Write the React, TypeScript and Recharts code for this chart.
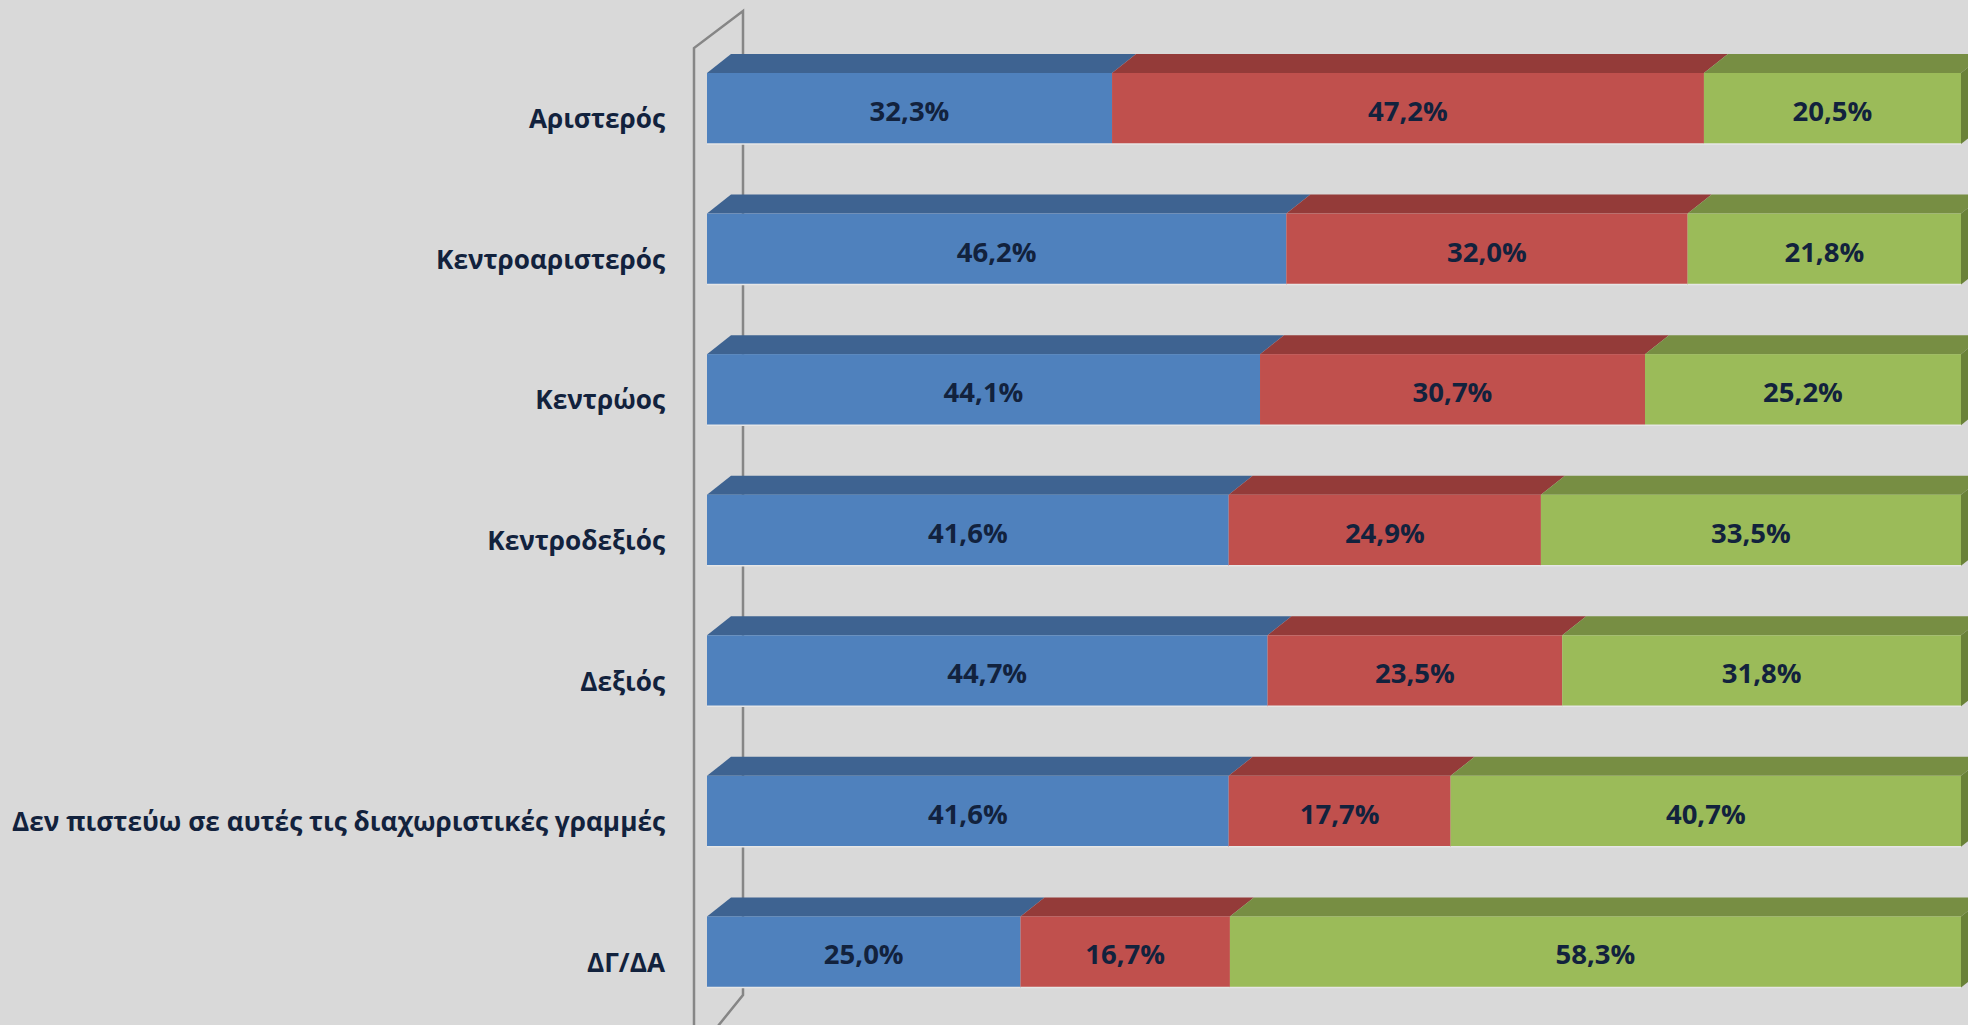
import { BarChart, Bar, XAxis, YAxis, LabelList, Customized } from 'recharts'

const categories = [
  'Αριστερός',
  'Κεντροαριστερός',
  'Κεντρώος',
  'Κεντροδεξιός',
  'Δεξιός',
  'Δεν πιστεύω σε αυτές τις διαχωριστικές γραμμές',
  'ΔΓ/ΔΑ',
]
const firstValues = [32.3, 46.2, 44.1, 41.6, 44.7, 41.6, 25.0]
const secondValues = [47.2, 32.0, 30.7, 24.9, 23.5, 17.7, 16.7]
const thirdValues = [20.5, 21.8, 25.2, 33.5, 31.8, 40.7, 58.3]

const data = categories.map((name, i) => ({
  name,
  first: firstValues[i],
  second: secondValues[i],
  third: thirdValues[i],
}))

const W = 1968
const H = 1025
const PLOT_LEFT = 707
const MARGIN = { top: 38, right: 7, bottom: 3, left: 0 }
const DEPTH_X = 24
const DEPTH_Y = 19
const TEXT = '#12223d'
const FONT = '"Open Sans", "Noto Sans", sans-serif'

const colors = {
  first: { front: '#4f81bd', top: '#3e6391', side: '#35577f' },
  second: { front: '#c0504d', top: '#943b39', side: '#7e3230' },
  third: { front: '#9bbb59', top: '#778e43', side: '#6a8238' },
}

type Shade = { front: string; top: string; side: string }

const make3dBar = (shade: Shade, withSide: boolean) => (props: any) => {
  const { x, y, width, height } = props
  if (!width || width <= 0) return <g />
  return (
    <g>
      <polygon
        points={`${x},${y} ${x + width},${y} ${x + width + DEPTH_X},${y - DEPTH_Y} ${x + DEPTH_X},${y - DEPTH_Y}`}
        fill={shade.top}
      />
      {withSide && (
        <polygon
          points={`${x + width},${y} ${x + width + DEPTH_X},${y - DEPTH_Y} ${x + width + DEPTH_X},${y + height - DEPTH_Y} ${x + width},${y + height}`}
          fill={shade.side}
        />
      )}
      <rect x={x} y={y} width={width} height={height} fill={shade.front} />
      <line x1={x} y1={y + height} x2={x + width} y2={y + height} stroke="#e6e6e6" strokeWidth={1.5} />
    </g>
  )
}

// back wall of the 3D plot area
const Wall = () => {
  const front = PLOT_LEFT - 13
  const back = PLOT_LEFT + 36
  return (
    <g fill="none" stroke="#868686" strokeWidth={2.5}>
      <polyline points={`${front},${H + 10} ${front},48 ${back},11 ${back},995 ${front - 1},${H + 32}`} />
    </g>
  )
}

const CategoryTick = (props: any) => {
  const { y, payload } = props
  return (
    <text
      x={665}
      y={y + 10}
      textAnchor="end"
      dominantBaseline="central"
      fill={TEXT}
      fontFamily={FONT}
      fontWeight={700}
      fontSize={26.2}
    >
      {payload.value}
    </text>
  )
}

const ValueLabel = (props: any) => {
  const { x, y, width, height, value } = props
  return (
    <text
      x={x + width / 2}
      y={y + height / 2 + 2}
      textAnchor="middle"
      dominantBaseline="central"
      fill={TEXT}
      fontFamily={FONT}
      fontWeight={700}
      fontSize={27.5}
    >
      {`${Number(value).toFixed(1).replace('.', ',')}%`}
    </text>
  )
}

export default function App() {
  return (
    <div style={{ position: 'absolute', left: 0, top: 0, width: W, height: H, background: '#d9d9d9', overflow: 'hidden' }}>
      <BarChart width={W} height={H} data={data} layout="vertical" margin={MARGIN} barSize={71}>
        <Customized component={Wall} />
        <XAxis type="number" domain={[0, 100]} hide />
        <YAxis
          type="category"
          dataKey="name"
          width={PLOT_LEFT}
          axisLine={false}
          tickLine={false}
          tick={<CategoryTick />}
          interval={0}
        />
        <Bar dataKey="first" stackId="s" isAnimationActive={false} shape={make3dBar(colors.first, false)}>
          <LabelList dataKey="first" content={<ValueLabel />} />
        </Bar>
        <Bar dataKey="second" stackId="s" isAnimationActive={false} shape={make3dBar(colors.second, false)}>
          <LabelList dataKey="second" content={<ValueLabel />} />
        </Bar>
        <Bar dataKey="third" stackId="s" isAnimationActive={false} shape={make3dBar(colors.third, true)}>
          <LabelList dataKey="third" content={<ValueLabel />} />
        </Bar>
      </BarChart>
    </div>
  )
}
